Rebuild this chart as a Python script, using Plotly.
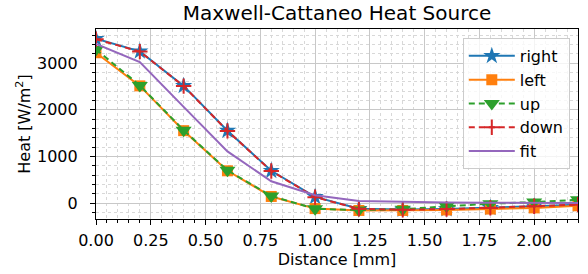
import plotly.graph_objects as go

distance = [0.0, 0.2, 0.4, 0.6, 0.8, 1.0, 1.2, 1.4, 1.6, 1.8, 2.0, 2.2]
right = [3520, 3250, 2510, 1550, 690, 130, -125, -140, -130, -105, -70, -35]
left = [3220, 2510, 1550, 690, 140, -120, -160, -160, -150, -130, -105, -60]
up = [3290, 2520, 1560, 700, 150, -125, -150, -135, -70, -15, 20, 70]
down = [3510, 3245, 2505, 1545, 685, 125, -125, -145, -130, -105, -70, -35]
fit = [3410, 3020, 2060, 1105, 465, 165, 45, 20, 8, 5, 3, 2]

x_ticks = [0.0, 0.25, 0.5, 0.75, 1.0, 1.25, 1.5, 1.75, 2.0]
y_ticks = [0, 1000, 2000, 3000]

FONT = "DejaVu Sans"

fig = go.Figure()
fig.add_trace(go.Scatter(x=distance, y=right, name="right", mode="lines+markers",
                         line=dict(color="#1f77b4", width=2),
                         marker=dict(symbol="star", size=13, color="#1f77b4")))
fig.add_trace(go.Scatter(x=distance, y=left, name="left", mode="lines+markers",
                         line=dict(color="#ff7f0e", width=2),
                         marker=dict(symbol="square", size=11, color="#ff7f0e")))
fig.add_trace(go.Scatter(x=distance, y=up, name="up", mode="lines+markers",
                         line=dict(color="#2ca02c", width=2, dash="6px,4px"),
                         marker=dict(symbol="triangle-down", size=14, color="#2ca02c")))
fig.add_trace(go.Scatter(x=distance, y=down, name="down", mode="lines+markers",
                         line=dict(color="#d62728", width=2, dash="6px,4px"),
                         marker=dict(symbol="cross-thin", size=11,
                                     line=dict(color="#d62728", width=2))))
fig.add_trace(go.Scatter(x=distance, y=fit, name="fit", mode="lines",
                         line=dict(color="#9467bd", width=2)))

axis_common = dict(
    showline=True, linecolor="black", linewidth=1.2, mirror=True,
    ticks="outside", ticklen=5, tickwidth=1, tickcolor="black",
    showgrid=True, gridcolor="#c8c8c8", gridwidth=1.2,
    zeroline=False, automargin=False,
    tickfont=dict(family=FONT, size=16, color="black"),
)

fig.update_xaxes(
    range=[0, 2.2], tickvals=x_ticks, ticktext=[f"{v:.2f}" for v in x_ticks],
    title=dict(text="Distance [mm]", font=dict(family=FONT, size=16, color="black"), standoff=2),
    minor=dict(dtick=0.05, tick0=0, ticks="outside", ticklen=3, tickcolor="black",
               showgrid=True, gridcolor="#d8d8d8", griddash="dot", gridwidth=1),
    ticklabelstandoff=2,
    **axis_common,
)
fig.update_yaxes(
    range=[-343, 3729], tickvals=y_ticks, ticktext=[str(v) for v in y_ticks],
    title=dict(text="Heat [W/m<sup>2</sup>]", font=dict(family=FONT, size=16, color="black"), standoff=2),
    minor=dict(dtick=200, tick0=0, ticks="outside", ticklen=3, tickcolor="black",
               showgrid=True, gridcolor="#d8d8d8", griddash="dot", gridwidth=1),
    ticklabelstandoff=9,
    **axis_common,
)

fig.update_layout(
    width=588, height=274,
    margin=dict(l=96, r=10, t=29, b=55, autoexpand=False),
    paper_bgcolor="white", plot_bgcolor="white",
    title=dict(text="Maxwell-Cattaneo Heat Source", x=0.5, xref="paper",
               y=1 - 13 / 274, yref="container", yanchor="middle", xanchor="center",
               automargin=False,
               font=dict(family=FONT, size=20, color="black")),
    font=dict(family=FONT, size=16, color="black"),
    showlegend=True,
    legend=dict(x=0.983, y=0.953, xanchor="right", yanchor="top", itemwidth=46,
                bgcolor="rgba(255,255,255,0.8)", bordercolor="#cccccc", borderwidth=1,
                font=dict(family=FONT, size=16, color="black")),
)

fig.write_html("out.html", config={"displayModeBar": False},
               post_script="document.body.style.margin='0';document.body.style.padding='0';")
